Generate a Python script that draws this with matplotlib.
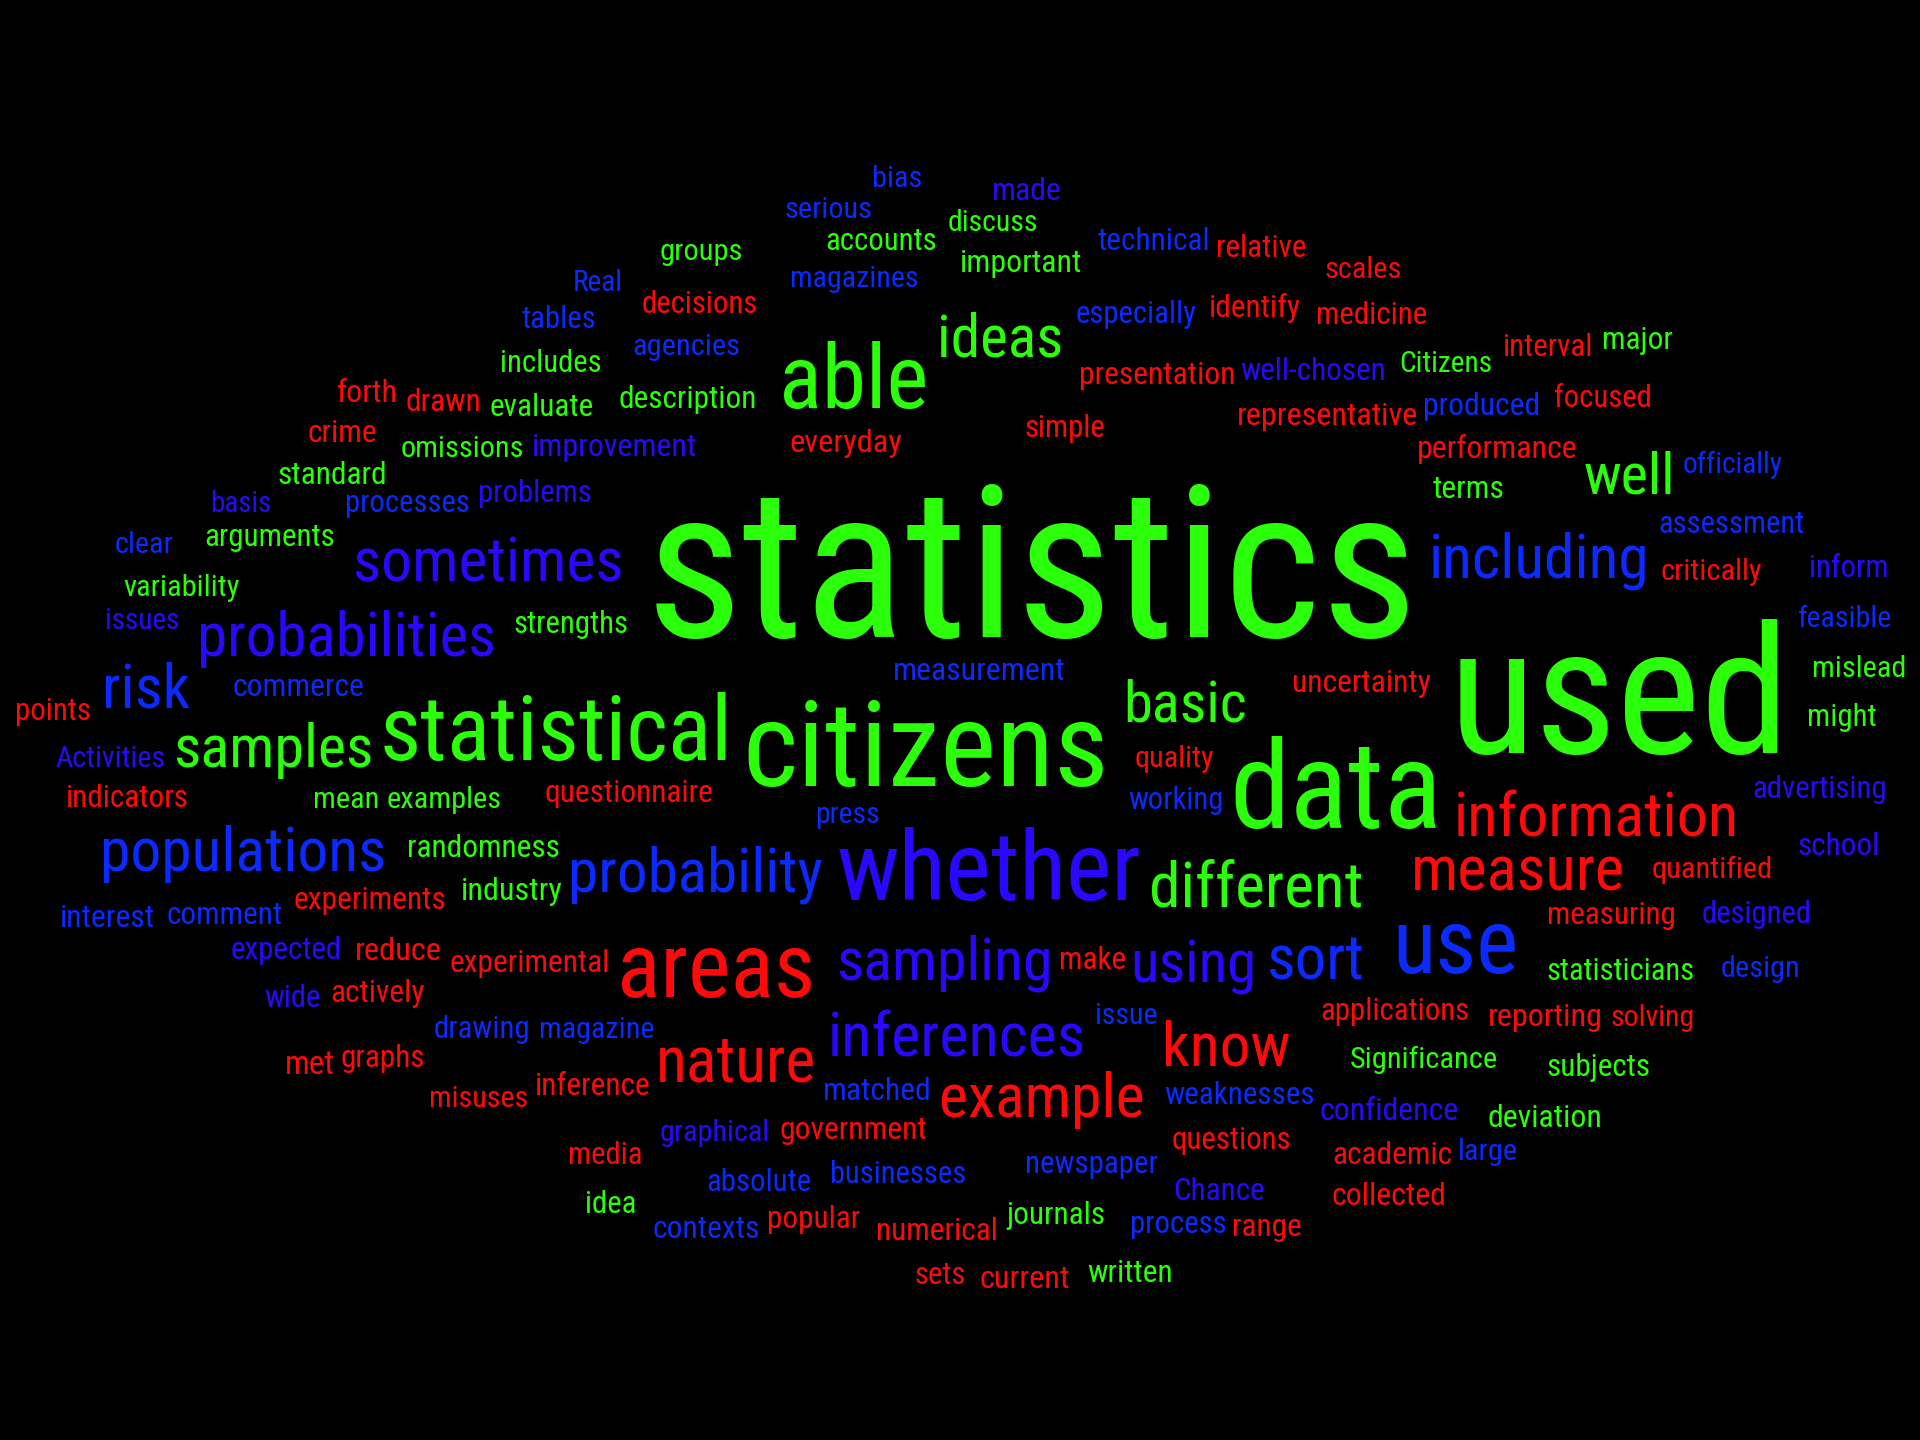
import matplotlib
matplotlib.use('Agg')
import matplotlib.pyplot as plt
from matplotlib import font_manager

# Word cloud: each row is (word, left x, right x, baseline y) read off the
# reference picture, in a 1568 x 1176 frame (y grows downwards).
GREEN_WORDS = [
    ('statistics', 527, 1158, 520), ('used', 1183, 1462, 615),
    ('citizens', 606, 905, 642), ('statistical', 310, 598, 621),
    ('data', 1004, 1178, 676), ('able', 636, 758, 333),
    ('ideas', 765, 868, 291), ('samples', 141, 305, 626),
    ('basic', 917, 1018, 589), ('well', 1293, 1368, 403),
    ('different', 938, 1113, 740), ('accounts', 674, 765, 204),
    ('discuss', 774, 848, 189), ('important', 784, 884, 222),
    ('groups', 539, 607, 212), ('includes', 408, 491, 304),
    ('Citizens', 1143, 1219, 304), ('major', 1308, 1366, 285),
    ('evaluate', 400, 485, 340), ('description', 505, 618, 333),
    ('omissions', 327, 428, 373), ('standard', 227, 317, 395),
    ('terms', 1170, 1229, 407), ('arguments', 167, 274, 446),
    ('variability', 101, 196, 487), ('strengths', 419, 513, 517),
    ('mislead', 1480, 1557, 553), ('might', 1476, 1533, 593),
    ('mean', 256, 310, 660), ('examples', 316, 410, 660),
    ('randomness', 332, 457, 700), ('industry', 376, 459, 735),
    ('statisticians', 1263, 1384, 800), ('Significance', 1102, 1223, 872),
    ('subjects', 1263, 1348, 879), ('deviation', 1215, 1309, 920),
    ('idea', 478, 520, 991), ('journals', 822, 903, 1000),
    ('written', 888, 958, 1047),
]

RED_WORDS = [
    ('areas', 504, 666, 814), ('information', 1187, 1420, 683),
    ('measure', 1152, 1327, 727), ('nature', 536, 667, 883),
    ('example', 767, 935, 912), ('know', 949, 1054, 870),
    ('decisions', 524, 619, 256), ('relative', 993, 1067, 210),
    ('scales', 1082, 1145, 227), ('identify', 987, 1062, 259),
    ('medicine', 1075, 1166, 265), ('interval', 1227, 1301, 291),
    ('presentation', 881, 1009, 314), ('forth', 275, 325, 328),
    ('drawn', 331, 393, 336), ('focused', 1269, 1349, 332),
    ('representative', 1010, 1158, 347), ('simple', 837, 903, 357),
    ('everyday', 645, 737, 369), ('crime', 251, 308, 361),
    ('performance', 1157, 1288, 374), ('critically', 1356, 1439, 474),
    ('uncertainty', 1055, 1169, 565), ('points', 12, 74, 588),
    ('quality', 927, 992, 626), ('indicators', 54, 154, 659),
    ('questionnaire', 445, 583, 655), ('quantified', 1349, 1448, 717),
    ('experiments', 240, 365, 742), ('measuring', 1263, 1368, 755),
    ('reduce', 290, 361, 784), ('experimental', 367, 498, 794),
    ('make', 865, 920, 791), ('actively', 270, 347, 818),
    ('applications', 1078, 1200, 833), ('reporting', 1215, 1309, 838),
    ('solving', 1315, 1384, 838), ('met', 233, 274, 877),
    ('graphs', 278, 347, 871), ('misuses', 350, 431, 904),
    ('inference', 437, 532, 894), ('government', 637, 758, 930),
    ('questions', 957, 1055, 938), ('academic', 1088, 1186, 951),
    ('media', 464, 525, 951), ('collected', 1087, 1181, 984),
    ('popular', 626, 702, 1003), ('numerical', 715, 815, 1013),
    ('range', 1006, 1063, 1009), ('sets', 747, 789, 1049),
    ('current', 800, 874, 1052),
]

BLUE_WORDS = [
    ('use', 1137, 1240, 795), ('including', 1167, 1347, 472),
    ('populations', 82, 316, 711), ('risk', 83, 155, 578),
    ('probability', 464, 672, 728), ('sort', 1035, 1115, 800),
    ('bias', 712, 753, 153), ('serious', 641, 713, 178),
    ('Real', 468, 509, 238), ('magazines', 645, 750, 234),
    ('technical', 896, 988, 204), ('tables', 426, 487, 268),
    ('especially', 878, 977, 264), ('agencies', 516, 604, 290),
    ('produced', 1162, 1258, 339), ('officially', 1374, 1456, 386),
    ('processes', 282, 384, 418), ('clear', 94, 142, 452),
    ('assessment', 1354, 1473, 435), ('feasible', 1468, 1545, 512),
    ('commerce', 190, 298, 568), ('measurement', 729, 870, 555),
    ('working', 921, 999, 661), ('press', 666, 719, 672),
    ('interest', 49, 127, 757), ('comment', 136, 231, 755),
    ('design', 1405, 1470, 798), ('drawing', 354, 433, 848),
    ('magazine', 440, 534, 848), ('issue', 894, 945, 836),
    ('matched', 672, 761, 898), ('weaknesses', 951, 1074, 902),
    ('large', 1191, 1240, 947), ('absolute', 577, 663, 973),
    ('businesses', 678, 789, 966), ('newspaper', 837, 946, 958),
    ('contexts', 533, 621, 1011), ('process', 923, 1002, 1007),
]

VIOLET_WORDS = [
    ('whether', 683, 932, 735), ('sometimes', 288, 509, 475),
    ('probabilities', 161, 405, 536), ('inferences', 676, 887, 863),
    ('sampling', 683, 860, 800), ('using', 923, 1026, 802),
    ('made', 810, 867, 163), ('well-chosen', 1013, 1132, 310),
    ('improvement', 434, 569, 372), ('problems', 390, 483, 410),
    ('basis', 172, 222, 418), ('issues', 86, 147, 514),
    ('Activities', 45, 135, 626), ('inform', 1477, 1542, 471),
    ('advertising', 1431, 1541, 652), ('school', 1468, 1535, 698),
    ('designed', 1390, 1480, 754), ('expected', 188, 279, 783),
    ('wide', 216, 262, 822), ('confidence', 1078, 1192, 915),
    ('graphical', 539, 629, 932), ('Chance', 958, 1033, 980),
]

FRAME_W, FRAME_H = 1568, 1176

groups = [
    (GREEN_WORDS, '#2bff0a'),
    (RED_WORDS, '#ff0a0a'),
    (BLUE_WORDS, '#0a2aff'),
    (VIOLET_WORDS, '#2a08ff'),
]

# pick the narrowest sans available
entries = font_manager.fontManager.ttflist
font_family, font_stretch = 'DejaVu Sans', 'normal'
candidates = [
    ('Roboto Condensed', None),
    ('Liberation Sans Narrow', None),
    ('Open Sans Condensed', None),
    ('Noto Sans', 'condensed'),
    ('DejaVu Sans', 'condensed'),
]
for name, stretch in candidates:
    ok = [f for f in entries if f.name == name and
          (stretch is None or str(f.stretch) in ('condensed', 'semi-condensed', '75', '87'))]
    if ok:
        font_family = name
        font_stretch = stretch if stretch else 'normal'
        break

fig = plt.figure(figsize=(19.2, 14.4), dpi=100, facecolor='black')
ax = fig.add_axes([0, 0, 1, 1])
ax.set_facecolor('black')
ax.set_xlim(0, FRAME_W)
ax.set_ylim(FRAME_H, 0)
ax.axis('off')

renderer = fig.canvas.get_renderer()
px_per_unit = fig.bbox.width / FRAME_W

for rows, color in groups:
    for word, x0, x1, base in rows:
        t = ax.text(x0, base, word, fontsize=100, color=color,
                    ha='left', va='baseline',
                    family=font_family, stretch=font_stretch)
        w = t.get_window_extent(renderer).width
        # scale font so the word spans the same width as in the picture
        t.set_fontsize(100 * (x1 - x0) * px_per_unit / w)

fig.savefig('out.png', dpi=100, facecolor='black')
